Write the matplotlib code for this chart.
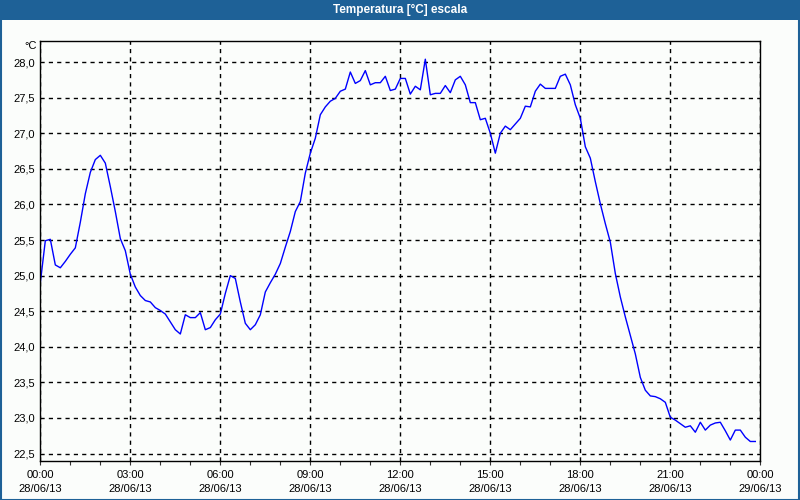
import numpy as np
import pandas as pd
import matplotlib
matplotlib.use("Agg")
import matplotlib.pyplot as plt
import matplotlib.dates as mdates
from matplotlib.patches import Rectangle
from matplotlib.ticker import FuncFormatter, FixedLocator

# temperature readings, one every 10 minutes from 28/06/13 00:00
temps = [
    24.90, 25.49, 25.51, 25.15, 25.11, 25.20, 25.30, 25.39, 25.75, 26.15,
    26.45, 26.63, 26.69, 26.58, 26.25, 25.90, 25.52, 25.35, 25.02, 24.84,
    24.72, 24.65, 24.63, 24.55, 24.51, 24.46, 24.35, 24.24, 24.18, 24.45,
    24.41, 24.41, 24.48, 24.24, 24.27, 24.38, 24.46, 24.75, 25.00, 24.96,
    24.63, 24.33, 24.24, 24.31, 24.45, 24.77, 24.90, 25.02, 25.17, 25.40,
    25.62, 25.90, 26.04, 26.44, 26.72, 26.93, 27.26, 27.37, 27.45, 27.49,
    27.59, 27.62, 27.86, 27.70, 27.74, 27.88, 27.68, 27.71, 27.71, 27.80,
    27.60, 27.62, 27.77, 27.77, 27.55, 27.66, 27.61, 28.04, 27.54, 27.56,
    27.56, 27.67, 27.57, 27.75, 27.80, 27.68, 27.43, 27.43, 27.19, 27.21,
    27.00, 26.72, 27.00, 27.10, 27.05, 27.13, 27.21, 27.38, 27.37, 27.59,
    27.69, 27.63, 27.63, 27.63, 27.80, 27.83, 27.68, 27.40, 27.21, 26.81,
    26.65, 26.32, 26.01, 25.73, 25.47, 25.03, 24.70, 24.42, 24.16, 23.90,
    23.57, 23.39, 23.31, 23.30, 23.27, 23.22, 23.01, 22.97, 22.92, 22.87,
    22.89, 22.80, 22.94, 22.83, 22.90, 22.93, 22.94, 22.82, 22.69, 22.83,
    22.83, 22.73, 22.67, 22.67,
]
start = "2013-06-28 00:00"
end = "2013-06-29 00:00"
times = pd.date_range(start, periods=len(temps), freq="10min")

y_ticks = [22.5, 23.0, 23.5, 24.0, 24.5, 25.0, 25.5, 26.0, 26.5, 27.0, 27.5, 28.0]
title = "Temperatura [°C] escala"
unit = "°C"

bg = "#FBFDFB"
bar = "#1E6197"

fig = plt.figure(figsize=(8, 5), dpi=100, facecolor=bg)
plt.rcParams["font.family"] = ["Liberation Sans", "DejaVu Sans"]

# title bar + window border
fig.patches.append(Rectangle((0, 0.96), 1, 0.04, transform=fig.transFigure,
                             facecolor=bar, edgecolor="none", zorder=0))
fig.patches.append(Rectangle((0.001, 0.001), 0.998, 0.998, transform=fig.transFigure,
                             facecolor="none", edgecolor=bar, lw=1.5, zorder=5))
fig.text(0.5, 0.98, title, color="white", fontsize=8.5, fontweight="bold",
         ha="center", va="center")

ax = fig.add_axes([0.0504, 0.0786, 0.9, 0.84])
ax.set_facecolor(bg)
ax.plot(times, temps, color="#0000FF", lw=1)

ax.set_xlim(pd.Timestamp(start), pd.Timestamp(end))
ax.set_ylim(22.40, 28.30)

ax.xaxis.set_major_locator(mdates.HourLocator(byhour=range(0, 24, 3)))
ax.xaxis.set_minor_locator(mdates.HourLocator())
ax.xaxis.set_major_formatter(mdates.DateFormatter("%H:%M\n%d/%m/%y"))
ax.yaxis.set_major_locator(FixedLocator(y_ticks))
ax.yaxis.set_major_formatter(FuncFormatter(lambda v, p: f"{v:.1f}".replace(".", ",")))

ax.tick_params(axis="x", which="both", length=3, width=0.8, color="#333333",
               labelsize=8, pad=4)
ax.tick_params(axis="y", length=0, labelsize=8, pad=4)
for lab in ax.get_xticklabels():
    lab.set_linespacing(1.5)

ax.grid(True, which="major", color="black", ls=(0, (3, 3)), lw=1)
for s in ax.spines.values():
    s.set_color("black")
    s.set_linewidth(1)

fig.text(37 / 800, 1 - 46 / 500, unit, fontsize=8, ha="right", va="center")

fig.savefig("out.png", dpi=100, facecolor=bg)
